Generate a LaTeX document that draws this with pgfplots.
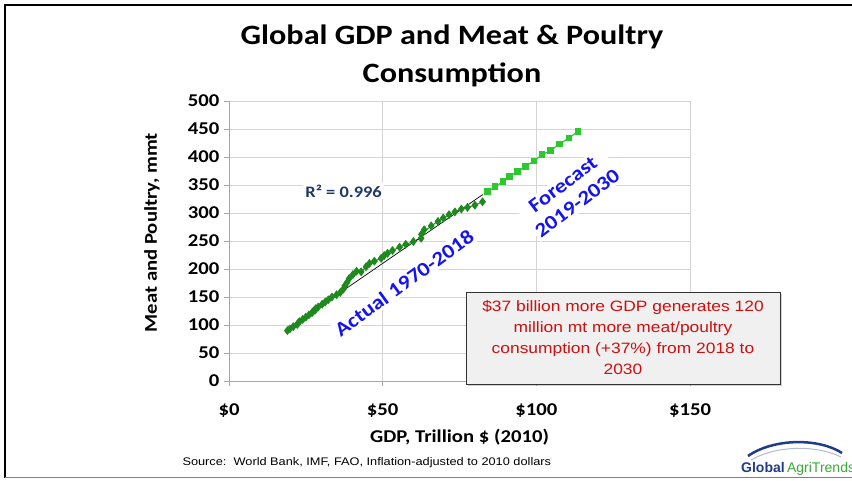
\documentclass[border=0pt]{standalone}
\usepackage{pgfplots}
\pgfplotsset{compat=1.18}
\usepackage{pgfplotstable}
\usepackage{fontspec}
\setmainfont[FakeStretch=1.15]{Carlito}
\newfontfamily\arialfont[FakeStretch=1.16]{Liberation Sans}
\newfontfamily\logofont{Liberation Sans}
\usetikzlibrary{shadows}
\definecolor{actualgreen}{HTML}{1E8A1E}
\definecolor{fcgreen}{HTML}{2DC82D}
\definecolor{labelblue}{HTML}{1414F0}
\definecolor{navy}{HTML}{1F3A68}
\definecolor{boxred}{HTML}{CC1010}
\definecolor{boxgray}{HTML}{F0F0F0}
\definecolor{gridgray}{HTML}{D4D4D4}
\definecolor{axisgray}{HTML}{A6A6A6}
\definecolor{logoblue}{HTML}{1F3C88}
\definecolor{logogreen}{HTML}{3AAA35}

% actual 1970-2018: GDP (trillion 2010 $) vs meat & poultry (mmt)
\pgfplotstableread{
gdp mmt
19.0 90
19.8 93
20.9 97
22.2 101
22.6 104
22.9 106
24.0 110
25.0 114
26.0 118
27.0 122
27.5 125
28.1 127
28.2 129
29.0 132
30.3 137
31.3 141
32.3 145
33.5 150
35.0 154
36.2 158
37.2 164
37.7 170
38.4 176
39.1 183
40.3 190
41.5 196
43.0 195
44.6 204
45.7 210
47.3 214
49.5 219
50.5 224
51.6 228
53.2 233
55.5 239
57.5 244
60.0 249
62.5 255
63.5 270
62.6 262
65.8 277
68.0 285
69.7 291
71.6 297
73.5 302
75.6 307
77.6 310
80.0 314
82.5 320
}\actual

% forecast 2019-2030
\pgfplotstableread{
gdp mmt
84.2 338
86.6 347
89.1 356
91.3 365
93.8 374
96.4 383
99.2 393
101.9 404
104.7 412
107.6 423
110.6 434
113.6 446
}\forecast

\begin{document}
\begin{tikzpicture}[x=1pt,y=1pt]
\useasboundingbox (-229,-100) rectangle (623,381);
\begin{axis}[
  scale only axis, width=461pt, height=280pt,
  at={(0,0)}, anchor=south west,
  xmin=0, xmax=150, ymin=0, ymax=500,
  xtick={0,50,100,150}, xticklabels={\$0,\$50,\$100,\$150},
  ytick={0,50,...,500},
  axis lines=left,
  axis line style={-, draw=axisgray, line width=0.8pt},
  tick style={draw=axisgray, line width=0.8pt},
  tick align=outside, major tick length=5pt,
  grid=major, grid style={gridgray, line width=0.8pt},
  /pgf/number format/assume math mode=true,
  tick label style={font=\bfseries\fontsize{18}{18}\selectfont},
  xticklabel style={yshift=-14pt},
  yticklabel style={xshift=-1pt},
  xlabel={GDP, Trillion \$ (2010)},
  ylabel={Meat and Poultry, mmt},
  label style={font=\bfseries\fontsize{18}{18}\selectfont},
  xlabel style={at={(axis description cs:0.5,-0.2)}, anchor=center},
  ylabel style={at={(axis description cs:-0.167,0.53)}, anchor=center},
  clip=false,
]
\addplot[actualgreen, line width=1pt, mark=diamond*, mark size=3.7pt] table[x=gdp,y=mmt] {\actual};
\addplot[black, line width=0.7pt] coordinates {(19,93) (82.6,333)};
\addplot[fcgreen, line width=1.2pt, mark=square*, mark size=2.7pt] table[x=gdp,y=mmt] {\forecast};

\node[font=\bfseries\fontsize{16}{16}\selectfont, text=navy, fill=white, inner sep=2pt] at (axis cs:37.3,339) {R² = 0.996};
\node[rotate=36, font=\bfseries\fontsize{20}{20}\selectfont, text=labelblue, fill=white, inner sep=2pt] at (axis cs:57,175) {Actual 1970-2018};
\node[rotate=37, align=center, font=\bfseries\fontsize{20}{24}\selectfont, text=labelblue, fill=white, inner sep=2pt] at (axis cs:111,334) {Forecast\\2019-2030};
\end{axis}

% note box
\node[draw=black!80, fill=boxgray, line width=0.8pt, drop shadow={shadow xshift=2pt, shadow yshift=-2pt, opacity=0.35},
      minimum width=314pt, minimum height=92pt, align=center, text=boxred,
      font=\arialfont\fontsize{15}{21}\selectfont] at (394,43)
  {\$37 billion more GDP generates 120\\million mt more meat/poultry\\consumption (+37\%) from 2018 to\\2030};

% title
\node[align=center, font=\bfseries\fontsize{28}{38}\selectfont] at (223,325)
  {Global GDP and Meat \& Poultry\\Consumption};

% source
\node[anchor=west, font=\arialfont\fontsize{11}{11}\selectfont] at (-50,-82)
  {Source:\ \ World Bank, IMF, FAO, Inflation-adjusted to 2010 dollars};

% logo
\draw[logoblue!35, line width=1pt] (522,-79) .. controls (548,-64) and (588,-64) .. (612,-76);
\draw[logoblue, line width=2.5pt] (519,-75) .. controls (545,-57) and (590,-57) .. (613,-72);
\node[anchor=west, font=\logofont\fontsize{14}{14}\selectfont, inner sep=0pt] at (512,-88)
  {\textcolor{logoblue}{\bfseries Global}\,\textcolor{logogreen}{AgriTrends}};

% slide frame
\draw[black, line width=1.5pt] (-224,-97) -- (-224,376) -- (623,376);
\draw[gray, line width=1pt] (-224,-97) -- (623,-97);
\end{tikzpicture}
\end{document}
